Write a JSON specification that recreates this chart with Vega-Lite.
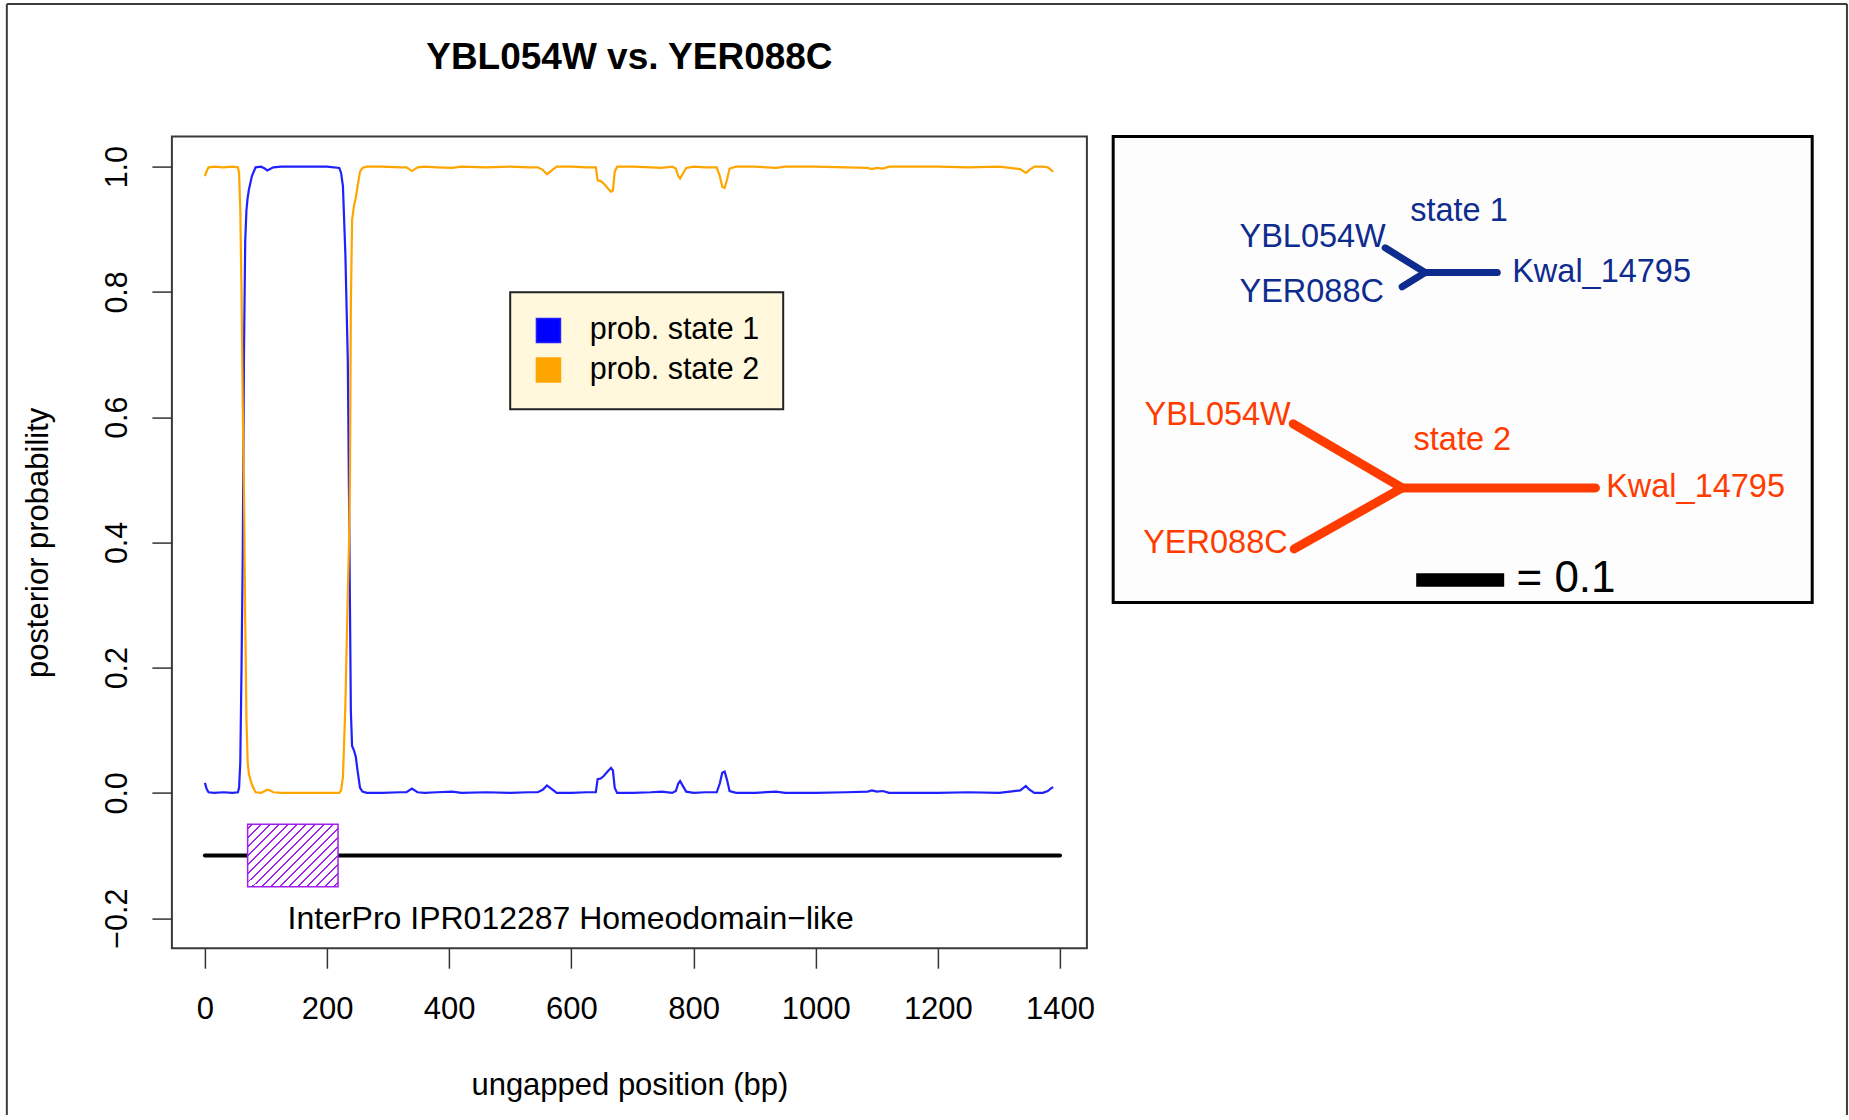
{
  "$schema": "https://vega.github.io/schema/vega-lite/v6.json",
  "padding": {"left": 3.9, "top": 0.6, "right": 0, "bottom": 0},
  "bounds": "flush",
  "spacing": 26.3,
  "config": {"font": "Liberation Sans", "view": {"stroke": null}},
  "datasets": {
    "probs": [
      {"pos":0,"s1":0.016,"s2":0.985},{"pos":3,"s1":0.006,"s2":0.993},{"pos":6,"s1":0.001,"s2":0.999},{"pos":15,"s1":0.0,"s2":1.0},
      {"pos":30,"s1":0.001,"s2":0.999},{"pos":45,"s1":0.0,"s2":1.0},{"pos":54,"s1":0.001,"s2":0.999},{"pos":56,"s1":0.008,"s2":0.99},
      {"pos":58,"s1":0.05,"s2":0.93},{"pos":60,"s1":0.2,"s2":0.8},{"pos":62,"s1":0.38,"s2":0.62},{"pos":64,"s1":0.7,"s2":0.48},
      {"pos":66,"s1":0.88,"s2":0.28},{"pos":68,"s1":0.93,"s2":0.12},{"pos":70,"s1":0.95,"s2":0.05},{"pos":72,"s1":0.963,"s2":0.03},
      {"pos":77,"s1":0.985,"s2":0.013},{"pos":83,"s1":0.999,"s2":0.001},{"pos":92,"s1":1.0,"s2":0.0},{"pos":98,"s1":0.997,"s2":0.003},
      {"pos":102,"s1":0.994,"s2":0.005},{"pos":106,"s1":0.996,"s2":0.004},{"pos":112,"s1":0.999,"s2":0.001},{"pos":125,"s1":1.0,"s2":0.0},
      {"pos":150,"s1":1.0,"s2":0.0},{"pos":175,"s1":1.0,"s2":0.0},{"pos":200,"s1":1.0,"s2":0.0},{"pos":220,"s1":0.998,"s2":0.0},
      {"pos":223,"s1":0.99,"s2":0.004},{"pos":226,"s1":0.969,"s2":0.025},{"pos":230,"s1":0.86,"s2":0.14},{"pos":234,"s1":0.69,"s2":0.32},
      {"pos":236,"s1":0.47,"s2":0.4},{"pos":237.5,"s1":0.3,"s2":0.5},{"pos":239,"s1":0.13,"s2":0.78},{"pos":241,"s1":0.075,"s2":0.915},
      {"pos":244,"s1":0.068,"s2":0.937},{"pos":247,"s1":0.058,"s2":0.95},{"pos":250,"s1":0.035,"s2":0.968},{"pos":254,"s1":0.008,"s2":0.992},
      {"pos":258,"s1":0.002,"s2":0.998},{"pos":265,"s1":0.0,"s2":1.0},{"pos":290,"s1":0.0,"s2":1.0},{"pos":320,"s1":0.001,"s2":0.999},
      {"pos":330,"s1":0.001,"s2":0.999},{"pos":339,"s1":0.007,"s2":0.993},{"pos":348,"s1":0.001,"s2":0.999},{"pos":360,"s1":0.0,"s2":1.0},
      {"pos":380,"s1":0.001,"s2":0.999},{"pos":405,"s1":0.002,"s2":0.998},{"pos":420,"s1":0.0,"s2":1.0},{"pos":460,"s1":0.001,"s2":0.999},
      {"pos":500,"s1":0.0,"s2":1.0},{"pos":530,"s1":0.001,"s2":0.999},{"pos":545,"s1":0.001,"s2":0.999},{"pos":553,"s1":0.005,"s2":0.995},
      {"pos":560,"s1":0.012,"s2":0.988},{"pos":568,"s1":0.006,"s2":0.994},{"pos":576,"s1":0.0,"s2":1.0},{"pos":600,"s1":0.0,"s2":1.0},
      {"pos":625,"s1":0.001,"s2":0.999},{"pos":640,"s1":0.001,"s2":0.999},{"pos":643,"s1":0.022,"s2":0.978},{"pos":648,"s1":0.023,"s2":0.977},
      {"pos":653,"s1":0.027,"s2":0.973},{"pos":660,"s1":0.035,"s2":0.965},{"pos":665,"s1":0.04,"s2":0.96},{"pos":668,"s1":0.036,"s2":0.962},
      {"pos":671,"s1":0.008,"s2":0.992},{"pos":675,"s1":0.0,"s2":1.0},{"pos":700,"s1":0.0,"s2":1.0},{"pos":730,"s1":0.001,"s2":0.999},
      {"pos":748,"s1":0.002,"s2":0.998},{"pos":765,"s1":0.0,"s2":1.0},{"pos":771,"s1":0.003,"s2":0.997},{"pos":775,"s1":0.015,"s2":0.985},
      {"pos":778,"s1":0.019,"s2":0.981},{"pos":782,"s1":0.012,"s2":0.988},{"pos":788,"s1":0.002,"s2":0.998},{"pos":800,"s1":0.0,"s2":1.0},
      {"pos":820,"s1":0.001,"s2":0.999},{"pos":838,"s1":0.001,"s2":0.999},{"pos":843,"s1":0.015,"s2":0.985},{"pos":847,"s1":0.032,"s2":0.968},
      {"pos":851,"s1":0.034,"s2":0.966},{"pos":855,"s1":0.02,"s2":0.98},{"pos":859,"s1":0.003,"s2":0.997},{"pos":870,"s1":0.0,"s2":1.0},
      {"pos":900,"s1":0.0,"s2":1.0},{"pos":935,"s1":0.002,"s2":0.998},{"pos":950,"s1":0.0,"s2":1.0},{"pos":1000,"s1":0.0,"s2":1.0},
      {"pos":1050,"s1":0.001,"s2":0.999},{"pos":1085,"s1":0.002,"s2":0.998},{"pos":1092,"s1":0.004,"s2":0.996},{"pos":1100,"s1":0.002,"s2":0.998},
      {"pos":1110,"s1":0.003,"s2":0.997},{"pos":1120,"s1":0.0,"s2":1.0},{"pos":1200,"s1":0.0,"s2":1.0},{"pos":1250,"s1":0.001,"s2":0.999},
      {"pos":1300,"s1":0.0,"s2":1.0},{"pos":1318,"s1":0.002,"s2":0.998},{"pos":1335,"s1":0.004,"s2":0.996},{"pos":1344,"s1":0.011,"s2":0.99},
      {"pos":1350,"s1":0.005,"s2":0.995},{"pos":1358,"s1":0.0,"s2":1.0},{"pos":1372,"s1":0.0,"s2":1.0},{"pos":1380,"s1":0.003,"s2":0.999},
      {"pos":1386,"s1":0.008,"s2":0.994},{"pos":1389,"s1":0.009,"s2":0.992}
    ],
    "track": [{"start": 0, "end": 1400}],
    "motif": [{"start": 70, "end": 218, "label": "InterPro IPR012287 Homeodomain−like"}],
    "edges": [
      {"state":"s1","x":0.3545,"y":0.375,"x2":0.3091,"y2":0.4031},
      {"state":"s1","x":0.3545,"y":0.375,"x2":0.3284,"y2":0.3588},
      {"state":"s1","x":0.3545,"y":0.375,"x2":0.4364,"y2":0.375},
      {"state":"s2","x":0.3284,"y":0.1303,"x2":0.2045,"y2":0.2031},
      {"state":"s2","x":0.3284,"y":0.1303,"x2":0.2057,"y2":0.061},
      {"state":"s2","x":0.3284,"y":0.1303,"x2":0.548,"y2":0.1303}
    ],
    "labels": [
      {"state":"s1","label":"state 1","x":0.3375,"y":0.4341},
      {"state":"s1","label":"YBL054W","x":0.1435,"y":0.4045},
      {"state":"s1","label":"YER088C","x":0.1435,"y":0.342},
      {"state":"s1","label":"Kwal_14795","x":0.4534,"y":0.3644},
      {"state":"s2","label":"YBL054W","x":0.0356,"y":0.2019},
      {"state":"s2","label":"state 2","x":0.3413,"y":0.1735},
      {"state":"s2","label":"YER088C","x":0.0341,"y":0.0561},
      {"state":"s2","label":"Kwal_14795","x":0.5602,"y":0.1205}
    ],
    "scalebar": [{"start": 0.3443, "end": 0.4443, "y": 0.0258, "label": "= 0.1", "lx": 0.4583, "ly": 0.0125}]
  },
  "hconcat": [
    {
      "width": 915,
      "height": 811.6,
      "view": {"stroke": "#3a3a3a", "strokeWidth": 2},
      "title": {"text": "YBL054W vs. YER088C", "fontSize": 37, "fontWeight": "bold", "font": "Liberation Sans", "color": "black", "anchor": "middle", "frame": "group", "baseline": "alphabetic", "offset": 31},
      "layer": [
        {
          "data": {"name": "probs"},
          "transform": [{"fold": ["s1", "s2"], "as": ["series", "p"]}],
          "mark": {"type": "line", "strokeWidth": 2.2, "interpolate": "linear"},
          "encoding": {
            "x": {"field": "pos", "type": "quantitative", "scale": {"domain": [-54, 1444], "nice": false, "zero": false},
              "axis": {"title": "ungapped position (bp)", "values": [0, 200, 400, 600, 800, 1000, 1200, 1400], "format": "d", "domain": false, "grid": false,
                "tickSize": 20, "tickWidth": 1.5, "tickColor": "#333333", "labelFontSize": 31, "labelFont": "Liberation Sans", "labelColor": "black",
                "labelPadding": 26, "labelFlush": false, "labelOverlap": false, "titleFontSize": 31, "titleFont": "Liberation Sans", "titleFontWeight": "normal",
                "titleColor": "black", "titleY": 146.5, "titleBaseline": "alphabetic"}},
            "y": {"field": "p", "type": "quantitative", "scale": {"domain": [-0.248, 1.048], "nice": false, "zero": false},
              "axis": {"title": "posterior probability", "values": [-0.2, 0, 0.2, 0.4, 0.6, 0.8, 1.0], "format": ".1f", "domain": false, "grid": false,
                "tickSize": 20, "tickWidth": 1.5, "tickColor": "#333333", "labelFontSize": 30.5, "labelFont": "Liberation Sans", "labelColor": "black",
                "labelAngle": -90, "labelAlign": "center", "labelBaseline": "bottom", "labelPadding": 19, "labelFlush": false, "labelOverlap": false,
                "titleFontSize": 31, "titleFont": "Liberation Sans", "titleFontWeight": "normal", "titleColor": "black",
                "titleAngle": -90, "titleAlign": "center", "titleBaseline": "alphabetic", "titleX": -124, "titleY": 405.8}},
            "color": {"field": "series", "type": "nominal",
              "scale": {"domain": ["s1", "s2"], "range": ["#2020ff", "#ffa500"]},
              "legend": {"orient": "none", "legendX": 338.3, "legendY": 155.6, "title": null,
                "labelExpr": "datum.value === 's1' ? 'prob. state 1' : 'prob. state 2'",
                "symbolType": "square", "symbolSize": 576, "labelFontSize": 30.5, "labelFont": "Liberation Sans", "labelColor": "black", "labelLimit": 500,
                "labelOffset": 26, "rowPadding": 8.5, "padding": 23, "fillColor": "#fff8dc", "strokeColor": "#222222",
                "encode": {
                  "symbols": {"update": {"fill": {"signal": "datum.value === 's1' ? '#0000ff' : '#ffa500'"}, "stroke": {"value": "black"}, "strokeWidth": {"value": 1.5}, "opacity": {"value": 1}}},
                  "legend": {"update": {"strokeWidth": {"value": 2}}}
                }}}
          }
        },
        {
          "data": {"name": "track"},
          "mark": {"type": "rule", "color": "black", "strokeWidth": 4, "strokeCap": "round"},
          "encoding": {
            "x": {"field": "start", "type": "quantitative", "scale": {"domain": [-54, 1444], "nice": false, "zero": false}},
            "x2": {"field": "end"},
            "y": {"datum": -0.1, "type": "quantitative", "scale": {"domain": [-0.248, 1.048], "nice": false, "zero": false}}
          }
        },
        {
          "data": {"name": "motif"},
          "mark": {"type": "rect", "stroke": "#a020f0", "strokeWidth": 1.5,
            "fill": {"gradient": "linear", "x1": 0, "y1": 0, "x2": 1.141, "y2": 0.799, "stops": [
              {"offset":0,"color":"#ffffff"},
              {"offset":0.0229,"color":"#ffffff"},{"offset":0.0229,"color":"#a020f0"},{"offset":0.0359,"color":"#a020f0"},{"offset":0.0359,"color":"#ffffff"},
              {"offset":0.0818,"color":"#ffffff"},{"offset":0.0818,"color":"#a020f0"},{"offset":0.0947,"color":"#a020f0"},{"offset":0.0947,"color":"#ffffff"},
              {"offset":0.1406,"color":"#ffffff"},{"offset":0.1406,"color":"#a020f0"},{"offset":0.1535,"color":"#a020f0"},{"offset":0.1535,"color":"#ffffff"},
              {"offset":0.1994,"color":"#ffffff"},{"offset":0.1994,"color":"#a020f0"},{"offset":0.2124,"color":"#a020f0"},{"offset":0.2124,"color":"#ffffff"},
              {"offset":0.2582,"color":"#ffffff"},{"offset":0.2582,"color":"#a020f0"},{"offset":0.2712,"color":"#a020f0"},{"offset":0.2712,"color":"#ffffff"},
              {"offset":0.3171,"color":"#ffffff"},{"offset":0.3171,"color":"#a020f0"},{"offset":0.33,"color":"#a020f0"},{"offset":0.33,"color":"#ffffff"},
              {"offset":0.3759,"color":"#ffffff"},{"offset":0.3759,"color":"#a020f0"},{"offset":0.3888,"color":"#a020f0"},{"offset":0.3888,"color":"#ffffff"},
              {"offset":0.4347,"color":"#ffffff"},{"offset":0.4347,"color":"#a020f0"},{"offset":0.4476,"color":"#a020f0"},{"offset":0.4476,"color":"#ffffff"},
              {"offset":0.4935,"color":"#ffffff"},{"offset":0.4935,"color":"#a020f0"},{"offset":0.5065,"color":"#a020f0"},{"offset":0.5065,"color":"#ffffff"},
              {"offset":0.5524,"color":"#ffffff"},{"offset":0.5524,"color":"#a020f0"},{"offset":0.5653,"color":"#a020f0"},{"offset":0.5653,"color":"#ffffff"},
              {"offset":0.6112,"color":"#ffffff"},{"offset":0.6112,"color":"#a020f0"},{"offset":0.6241,"color":"#a020f0"},{"offset":0.6241,"color":"#ffffff"},
              {"offset":0.67,"color":"#ffffff"},{"offset":0.67,"color":"#a020f0"},{"offset":0.6829,"color":"#a020f0"},{"offset":0.6829,"color":"#ffffff"},
              {"offset":0.7288,"color":"#ffffff"},{"offset":0.7288,"color":"#a020f0"},{"offset":0.7418,"color":"#a020f0"},{"offset":0.7418,"color":"#ffffff"},
              {"offset":0.7876,"color":"#ffffff"},{"offset":0.7876,"color":"#a020f0"},{"offset":0.8006,"color":"#a020f0"},{"offset":0.8006,"color":"#ffffff"},
              {"offset":0.8465,"color":"#ffffff"},{"offset":0.8465,"color":"#a020f0"},{"offset":0.8594,"color":"#a020f0"},{"offset":0.8594,"color":"#ffffff"},
              {"offset":0.9053,"color":"#ffffff"},{"offset":0.9053,"color":"#a020f0"},{"offset":0.9182,"color":"#a020f0"},{"offset":0.9182,"color":"#ffffff"},
              {"offset":0.9641,"color":"#ffffff"},{"offset":0.9641,"color":"#a020f0"},{"offset":0.9771,"color":"#a020f0"},{"offset":0.9771,"color":"#ffffff"},
              {"offset":1,"color":"#ffffff"}
            ]}
          },
          "encoding": {
            "x": {"field": "start", "type": "quantitative", "scale": {"domain": [-54, 1444], "nice": false, "zero": false}},
            "x2": {"field": "end"},
            "y": {"datum": -0.05, "type": "quantitative", "scale": {"domain": [-0.248, 1.048], "nice": false, "zero": false}},
            "y2": {"datum": -0.15}
          }
        },
        {
          "data": {"name": "motif"},
          "mark": {"type": "text", "fontSize": 32, "font": "Liberation Sans", "align": "center", "baseline": "middle", "dy": 1, "color": "black"},
          "encoding": {
            "x": {"datum": 599, "type": "quantitative", "scale": {"domain": [-54, 1444], "nice": false, "zero": false}},
            "y": {"datum": -0.2, "type": "quantitative", "scale": {"domain": [-0.248, 1.048], "nice": false, "zero": false}},
            "text": {"field": "label"}
          }
        }
      ]
    },
    {
      "width": 699,
      "height": 466,
      "view": {"stroke": "black", "strokeWidth": 3, "fill": "#fdfdfd"},
      "layer": [
        {
          "data": {"values": [{}]},
          "mark": {"type": "rule", "color": "#3c3c3c", "strokeWidth": 2},
          "encoding": {
            "x": {"datum": -1.2572, "type": "quantitative", "scale": {"domain": [0, 0.7943], "nice": false, "zero": false}, "axis": null},
            "x2": {"datum": 0.8338},
            "y": {"datum": 0.6803, "type": "quantitative", "scale": {"domain": [0, 0.5295], "nice": false, "zero": false}, "axis": null}
          }
        },
        {
          "data": {"values": [{}]},
          "mark": {"type": "rule", "color": "#3c3c3c", "strokeWidth": 2},
          "encoding": {
            "x": {"datum": -1.2572, "type": "quantitative", "scale": {"domain": [0, 0.7943], "nice": false, "zero": false}, "axis": null},
            "y": {"datum": 0.6803, "type": "quantitative", "scale": {"domain": [0, 0.5295], "nice": false, "zero": false}, "axis": null},
            "y2": {"datum": -0.5822}
          }
        },
        {
          "data": {"values": [{}]},
          "mark": {"type": "rule", "color": "#3c3c3c", "strokeWidth": 2},
          "encoding": {
            "x": {"datum": 0.8338, "type": "quantitative", "scale": {"domain": [0, 0.7943], "nice": false, "zero": false}, "axis": null},
            "y": {"datum": 0.6803, "type": "quantitative", "scale": {"domain": [0, 0.5295], "nice": false, "zero": false}, "axis": null},
            "y2": {"datum": -0.5822}
          }
        },
        {
          "data": {"name": "edges"},
          "transform": [{"filter": "datum.state === 's1'"}],
          "mark": {"type": "rule", "color": "#0e2b8e", "strokeWidth": 7, "strokeCap": "round"},
          "encoding": {
            "x": {"field": "x", "type": "quantitative", "scale": {"domain": [0, 0.7943], "nice": false, "zero": false}, "axis": null},
            "x2": {"field": "x2"},
            "y": {"field": "y", "type": "quantitative", "scale": {"domain": [0, 0.5295], "nice": false, "zero": false}, "axis": null},
            "y2": {"field": "y2"}
          }
        },
        {
          "data": {"name": "edges"},
          "transform": [{"filter": "datum.state === 's2'"}],
          "mark": {"type": "rule", "color": "#ff3c00", "strokeWidth": 9, "strokeCap": "round"},
          "encoding": {
            "x": {"field": "x", "type": "quantitative", "scale": {"domain": [0, 0.7943], "nice": false, "zero": false}, "axis": null},
            "x2": {"field": "x2"},
            "y": {"field": "y", "type": "quantitative", "scale": {"domain": [0, 0.5295], "nice": false, "zero": false}, "axis": null},
            "y2": {"field": "y2"}
          }
        },
        {
          "data": {"name": "labels"},
          "transform": [{"filter": "datum.state === 's1'"}],
          "mark": {"type": "text", "align": "left", "baseline": "alphabetic", "fontSize": 32.5, "font": "Liberation Sans", "color": "#0e2b8e"},
          "encoding": {
            "x": {"field": "x", "type": "quantitative", "scale": {"domain": [0, 0.7943], "nice": false, "zero": false}, "axis": null},
            "y": {"field": "y", "type": "quantitative", "scale": {"domain": [0, 0.5295], "nice": false, "zero": false}, "axis": null},
            "text": {"field": "label"}
          }
        },
        {
          "data": {"name": "labels"},
          "transform": [{"filter": "datum.state === 's2'"}],
          "mark": {"type": "text", "align": "left", "baseline": "alphabetic", "fontSize": 32.5, "font": "Liberation Sans", "color": "#ff3c00"},
          "encoding": {
            "x": {"field": "x", "type": "quantitative", "scale": {"domain": [0, 0.7943], "nice": false, "zero": false}, "axis": null},
            "y": {"field": "y", "type": "quantitative", "scale": {"domain": [0, 0.5295], "nice": false, "zero": false}, "axis": null},
            "text": {"field": "label"}
          }
        },
        {
          "data": {"name": "scalebar"},
          "mark": {"type": "rule", "color": "black", "strokeWidth": 13.5, "strokeCap": "butt"},
          "encoding": {
            "x": {"field": "start", "type": "quantitative", "scale": {"domain": [0, 0.7943], "nice": false, "zero": false}, "axis": null},
            "x2": {"field": "end"},
            "y": {"field": "y", "type": "quantitative", "scale": {"domain": [0, 0.5295], "nice": false, "zero": false}, "axis": null}
          }
        },
        {
          "data": {"name": "scalebar"},
          "mark": {"type": "text", "align": "left", "baseline": "alphabetic", "fontSize": 44, "font": "Liberation Sans", "color": "black"},
          "encoding": {
            "x": {"field": "lx", "type": "quantitative", "scale": {"domain": [0, 0.7943], "nice": false, "zero": false}, "axis": null},
            "y": {"field": "ly", "type": "quantitative", "scale": {"domain": [0, 0.5295], "nice": false, "zero": false}, "axis": null},
            "text": {"field": "label"}
          }
        }
      ]
    }
  ]
}
